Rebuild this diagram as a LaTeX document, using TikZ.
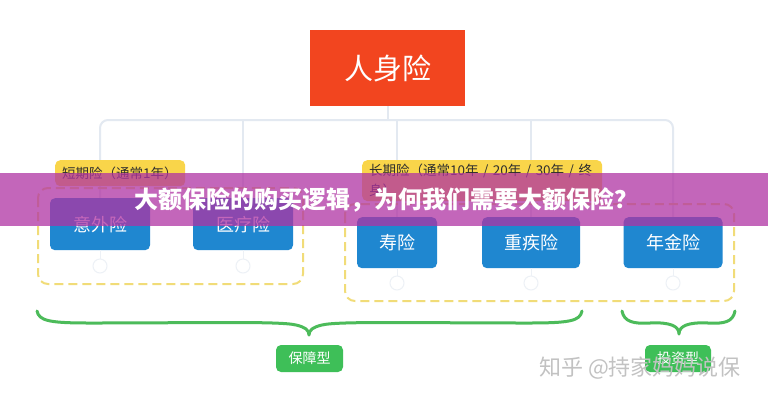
\documentclass[tikz,border=0pt]{standalone}
\usepackage{fontspec}
\setmainfont{Noto Sans CJK SC}
\usetikzlibrary{calc}
\definecolor{rootred}{HTML}{F2451F}
\definecolor{boxblue}{HTML}{1F87D0}
\definecolor{lblyellow}{HTML}{F9D54A}
\definecolor{dashyellow}{HTML}{F1DC78}
\definecolor{treegray}{HTML}{E3E9F1}
\definecolor{circgray}{HTML}{EDF1F6}
\definecolor{bracegreen}{HTML}{4CBB5A}
\definecolor{lblgreen}{HTML}{3EBF58}
\definecolor{bannerpurple}{RGB}{176,51,163}
\definecolor{textdark}{HTML}{2E2E2E}
\definecolor{wmgray}{HTML}{C2C2C2}
\tikzset{
  rootbox/.style={fill=rootred, minimum width=155pt, minimum height=76pt, inner sep=0pt,
    text=white, font=\fontsize{29}{34}\selectfont},
  bluebox/.style={fill=boxblue, rounded corners=5pt, inner sep=0pt, text=white,
    font=\fontsize{18}{22}\selectfont},
  ylabel/.style={fill=lblyellow, rounded corners=5pt, inner xsep=7pt, inner ysep=4pt,
    text=textdark, align=left, font=\fontsize{13.5}{20}\selectfont},
  dashbox/.style={draw=dashyellow, line width=2pt, dash pattern=on 9pt off 5pt, rounded corners=10pt},
  tree/.style={draw=treegray, line width=2pt},
  faint/.style={draw=circgray, line width=1pt},
  circ/.style={circle, draw=circgray, line width=1pt, minimum size=14pt, inner sep=0pt},
  bracestyle/.style={draw=bracegreen, line width=3pt, line cap=round, line join=round},
  glabel/.style={fill=lblgreen, rounded corners=5pt, inner sep=0pt, minimum height=27pt,
    text=white, font=\fontsize{14}{16}\selectfont},
  banner/.style={fill=bannerpurple, fill opacity=0.75},
  bannertext/.style={text=white, font=\bfseries\fontsize{24}{27}\selectfont},
  wm/.style={text=wmgray, font=\fontsize{22}{24}\selectfont, inner sep=0pt}
}
\begin{document}
\begin{tikzpicture}[x=1pt,y=-1pt]
\fill[white] (0,0) rectangle (768,400);
\useasboundingbox (0,0) rectangle (768,400);

% root and leaf positions (leaves drawn later, on top of the connectors)
\node[rootbox] (root) at (387.5,68) {人身险};
\coordinate (bus) at (0,120);
\coordinate (p1) at (100,198);
\coordinate (p2) at (243,198);
\coordinate (p3) at (397,217);
\coordinate (p4) at (531,217);
\coordinate (p5) at (673,217);

% tree connectors
\draw[tree] (root.south) -- (root.south |- bus);
\draw[tree, rounded corners=8pt] (p1) -- (p1 |- bus) -- (p5 |- bus) -- (p5);
\draw[tree] (p2 |- bus) -- (p2);
\draw[tree] (p3 |- bus) -- (p3);
\draw[tree] (p4 |- bus) -- (p4);

% dashed group boxes
\draw[dashbox] (38,188) rectangle (303,284);
\draw[dashbox] (345,204) rectangle (734,301);

% leaf boxes
\node[bluebox, minimum width=100pt, minimum height=52pt, anchor=north] (b1) at (p1) {意外险};
\node[bluebox, minimum width=100pt, minimum height=52pt, anchor=north] (b2) at (p2) {医疗险};
\node[bluebox, minimum width=80pt, minimum height=51pt, anchor=north] (b3) at (p3) {寿险};
\node[bluebox, minimum width=98pt, minimum height=51pt, anchor=north] (b4) at (p4) {重疾险};
\node[bluebox, minimum width=99pt, minimum height=51pt, anchor=north] (b5) at (p5) {年金险};

% yellow labels
\node[ylabel, anchor=north west, text width=116pt, minimum height=26pt] (s1) at (55,160) {短期险（通常1年）};
\node[ylabel, anchor=north west, text width=226pt] (s2) at (362,160) {长期险（通常10年 / 20年 / 30年 / 终\\身）};

% faint circles
\node[circ] (k1) at (100,266) {};
\node[circ] (k2) at (243,266) {};
\node[circ] (k3) at (397,283) {};
\node[circ] (k4) at (531,283) {};
\node[circ] (k5) at (673,283) {};
\foreach \i in {1,...,5} { \draw[faint] (b\i.south) -- (k\i.north); }

% braces
\draw[bracestyle] (37,311) .. controls (39,321) and (50,323) .. (90,323)
  .. controls (200,323) and (280,321) .. (296,325)
  .. controls (305,327) and (309,330) .. (309,335)
  .. controls (309,330) and (313,327) .. (322,325)
  .. controls (338,321) and (418,323) .. (528,323)
  .. controls (570,323) and (580,321) .. (582,311);
\draw[bracestyle] (622,311) .. controls (624,322) and (634,324) .. (650,323)
  .. controls (670,322) and (679,326) .. (679,334)
  .. controls (679,326) and (688,322) .. (708,323)
  .. controls (724,324) and (733,322) .. (735,311);

% green labels
\node[glabel, minimum width=67pt] (g1) at (309.5,358.5) {保障型};
\node[glabel, minimum width=66pt] (g2) at (678,358.5) {投资型};

% banner
\fill[banner] (0,173) rectangle (768,226);
\node[bannertext] (title) at (386,199.5) {大额保险的购买逻辑，为何我们需要大额保险？};

% watermark
\node[wm, anchor=west] (wmark) at (539,368) {知乎 @持家妈妈说保};
\end{tikzpicture}
\end{document}
